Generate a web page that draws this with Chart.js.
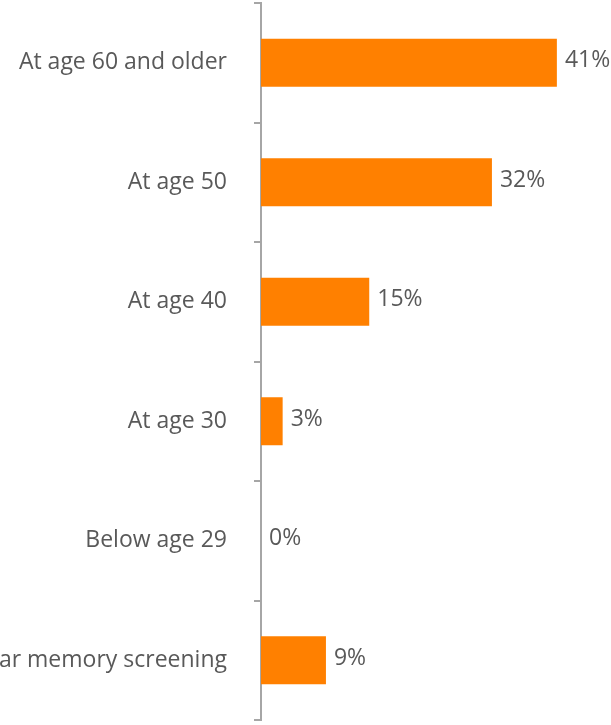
<!DOCTYPE html>
<html>
<head>
<meta charset="utf-8">
<script src="https://cdn.jsdelivr.net/npm/chart.js@4/dist/chart.umd.min.js"></script>
<style>
  html, body { margin: 0; padding: 0; background: #fff; }
  #wrap { width: 611px; height: 725px; position: relative; }
</style>
</head>
<body>
<div id="wrap"><canvas id="age-chart"></canvas></div>
<script>
const categories = [
  'At age 60 and older',
  'At age 50',
  'At age 40',
  'At age 30',
  'Below age 29',
  'No need for regular memory screening'
];
const shares = [41, 32, 15, 3, 0, 9];

// percent text to the right of each bar
const barValueLabels = {
  id: 'barValueLabels',
  afterDatasetsDraw(chart) {
    const ctx = chart.ctx;
    const meta = chart.getDatasetMeta(0);
    ctx.save();
    ctx.font = '23px "Open Sans"';
    ctx.fillStyle = '#595959';
    ctx.textAlign = 'left';
    ctx.textBaseline = 'middle';
    meta.data.forEach((bar, i) => {
      ctx.fillText(shares[i] + '%', bar.x + 8, bar.y - 2);
    });
    ctx.restore();
  }
};

new Chart(document.getElementById('age-chart'), {
  type: 'bar',
  data: {
    labels: categories,
    datasets: [{
      data: shares,
      backgroundColor: '#ff8000',
      categoryPercentage: 1,
      barPercentage: 0.4
    }]
  },
  plugins: [barValueLabels],
  options: {
    indexAxis: 'y',
    responsive: true,
    maintainAspectRatio: false,
    animation: false,
    layout: { padding: { top: 3, bottom: 5, left: 0, right: 0 } },
    plugins: {
      legend: { display: false },
      tooltip: { enabled: false }
    },
    scales: {
      x: {
        display: false,
        min: 0,
        max: 48.5
      },
      y: {
        afterFit(scale) {
          scale.width = 261; // long labels run off the left edge
          scale.paddingTop = 0;
          scale.paddingBottom = 0;
        },
        border: { color: '#a6a6a6', width: 2 },
        grid: {
          offset: true,
          drawOnChartArea: false,
          tickLength: 7,
          color: '#a6a6a6',
          lineWidth: 2
        },
        ticks: {
          padding: 27,
          color: '#595959',
          font: { family: 'Open Sans', size: 23 }
        }
      }
    }
  }
});
</script>
</body>
</html>
